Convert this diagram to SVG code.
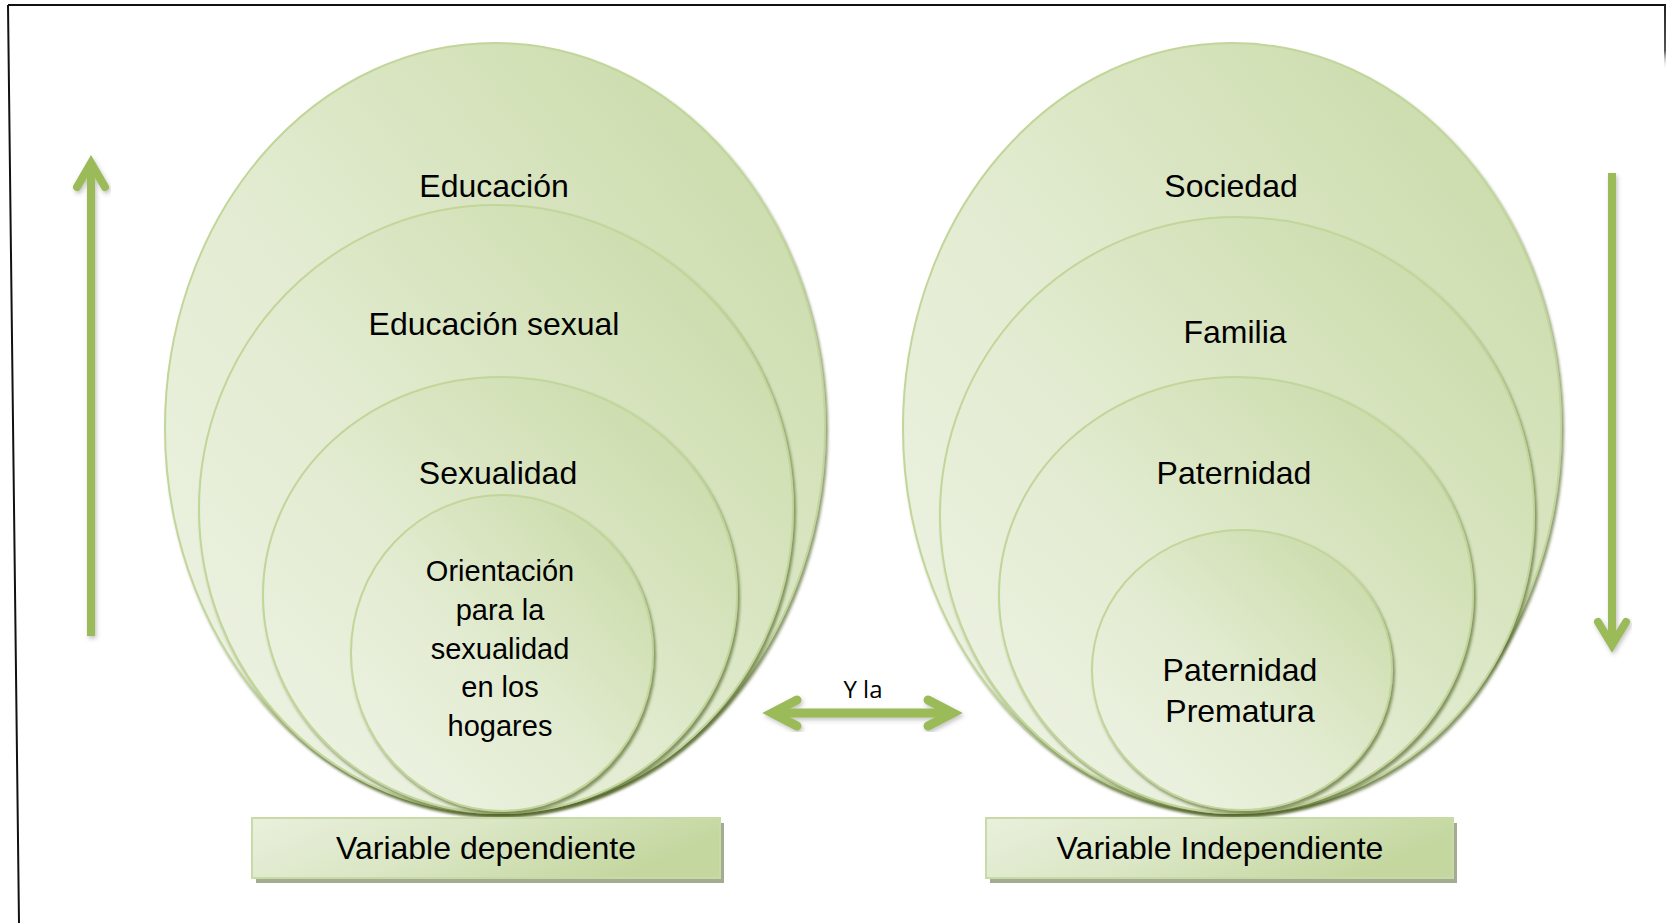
<svg xmlns="http://www.w3.org/2000/svg" width="1666" height="923" viewBox="0 0 1666 923">
<defs>
<linearGradient id="ellFill" x1="0" y1="1" x2="1" y2="0">
<stop offset="0" stop-color="#eef3e5"/>
<stop offset="0.45" stop-color="#e3ecd2"/>
<stop offset="1" stop-color="#c6d8a2"/>
</linearGradient>
<linearGradient id="boxFill" x1="0" y1="0" x2="1" y2="0.3">
<stop offset="0" stop-color="#e9f0dd"/>
<stop offset="0.5" stop-color="#dae6c4"/>
<stop offset="1" stop-color="#c4d79f"/>
</linearGradient>
<linearGradient id="rightEdge" gradientUnits="userSpaceOnUse" x1="0" y1="5" x2="0" y2="70">
<stop offset="0" stop-color="#222"/>
<stop offset="0.7" stop-color="#555"/>
<stop offset="1" stop-color="#fff" stop-opacity="0"/>
</linearGradient>
<filter id="ellShadow" x="-10%" y="-10%" width="120%" height="120%">
<feDropShadow dx="2" dy="3" stdDeviation="1.5" flood-color="#4f6228" flood-opacity="0.65"/>
</filter>
<filter id="arrShadow" x="-20%" y="-20%" width="140%" height="140%">
<feDropShadow dx="1.5" dy="2.5" stdDeviation="2" flood-color="#555" flood-opacity="0.35"/>
</filter>
<style>
.ell{fill:url(#ellFill);stroke:#c2d69a;stroke-width:2;filter:url(#ellShadow)}
.lbl{font-family:"Liberation Sans",Arial,sans-serif;font-size:32px;fill:#000;text-anchor:middle}
.small{font-size:29px}
.box{fill:url(#boxFill);stroke:#c8dba6;stroke-width:2}
.boxsh{fill:#a3ab92}
.arr{fill:none;stroke:#9bbb59;stroke-width:8;filter:url(#arrShadow)}
.frame{fill:none;stroke:#111;stroke-width:2}
</style>
</defs>
<rect width="1666" height="923" fill="#fff"/>
<g id="frame">
<path class="frame" d="M8,5 L1666,5 M8,5 L19,923"/>
<path d="M1665,5 L1665,70" stroke="url(#rightEdge)" stroke-width="2" fill="none"/>
</g>
<g id="node-educacion">
<ellipse class="ell" cx="495" cy="428" rx="330" ry="385"/>
<text class="lbl" x="494" y="197">Educación</text>
</g>
<g id="node-educacion-sexual">
<ellipse class="ell" cx="496" cy="509" rx="297" ry="304"/>
<text class="lbl" x="494" y="335">Educación sexual</text>
</g>
<g id="node-sexualidad">
<ellipse class="ell" cx="500" cy="595" rx="237" ry="218"/>
<text class="lbl" x="498" y="484">Sexualidad</text>
</g>
<g id="node-orientacion">
<ellipse class="ell" cx="502" cy="653" rx="151" ry="158"/>
<text class="lbl small" x="500" y="581">Orientación</text>
<text class="lbl small" x="500" y="620">para la</text>
<text class="lbl small" x="500" y="659">sexualidad</text>
<text class="lbl small" x="500" y="697">en los</text>
<text class="lbl small" x="500" y="736">hogares</text>
</g>
<g id="node-sociedad">
<ellipse class="ell" cx="1232" cy="428" rx="329" ry="385"/>
<text class="lbl" x="1231" y="197">Sociedad</text>
</g>
<g id="node-familia">
<ellipse class="ell" cx="1237" cy="515" rx="297" ry="298"/>
<text class="lbl" x="1235" y="343">Familia</text>
</g>
<g id="node-paternidad">
<ellipse class="ell" cx="1236" cy="595" rx="237" ry="218"/>
<text class="lbl" x="1234" y="484">Paternidad</text>
</g>
<g id="node-paternidad-prematura">
<ellipse class="ell" cx="1242" cy="670" rx="150" ry="140"/>
<text class="lbl" x="1240" y="681">Paternidad</text>
<text class="lbl" x="1240" y="722">Prematura</text>
</g>
<g id="node-variable-dependiente">
<rect class="boxsh" x="256" y="823" width="468" height="60"/>
<rect class="box" x="252" y="818" width="468" height="60"/>
<text class="lbl" x="486" y="859">Variable dependiente</text>
</g>
<g id="node-variable-independiente">
<rect class="boxsh" x="990" y="823" width="467" height="60"/>
<rect class="box" x="986" y="818" width="467" height="60"/>
<text class="lbl" x="1220" y="859">Variable Independiente</text>
</g>
<g id="connectors">
<g class="arr">
<path d="M91,636 L91,165" stroke-linecap="butt"/>
<path d="M77,187 L91,163 L105,187" stroke-linecap="round" stroke-linejoin="miter"/>
</g>
<g class="arr">
<path d="M1612,173 L1612,640" stroke-linecap="butt"/>
<path d="M1598,622 L1612,645 L1626,622" stroke-linecap="round" stroke-linejoin="miter"/>
</g>
<g class="arr" style="stroke-width:9">
<path d="M774,713 L952,713"/>
<path d="M797,700 L772,713 L797,726" stroke-linecap="round" stroke-linejoin="miter"/>
<path d="M928,700 L953,713 L928,726" stroke-linecap="round" stroke-linejoin="miter"/>
</g>
<text x="863" y="698" font-family="'Open Sans','Liberation Sans',sans-serif" font-size="24" text-anchor="middle" fill="#000">Y la</text>
</g>
</svg>
